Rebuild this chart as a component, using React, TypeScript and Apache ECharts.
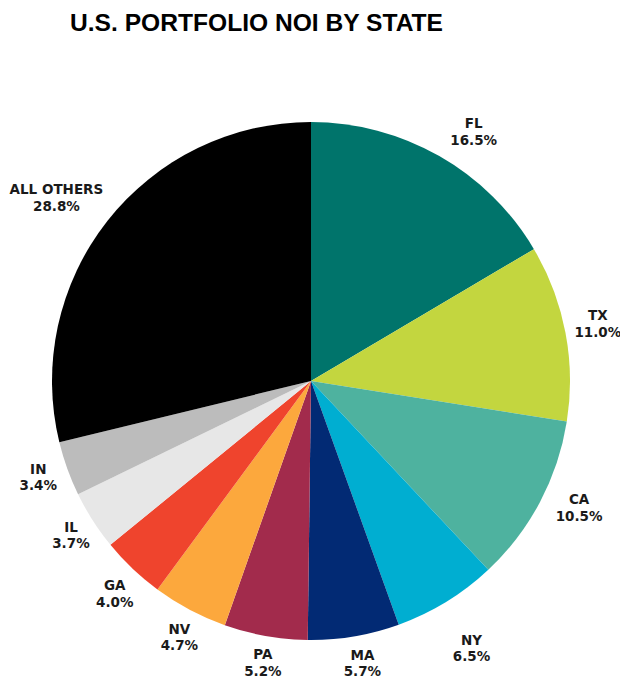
import React, { useEffect, useRef } from "react";
import * as echarts from "echarts";

const states = ["FL", "TX", "CA", "NY", "MA", "PA", "NV", "GA", "IL", "IN", "ALL OTHERS"];
const shares = [16.5, 11.0, 10.5, 6.5, 5.7, 5.2, 4.7, 4.0, 3.7, 3.4, 28.8];
const colors = ["#00746b", "#c3d63f", "#4eb29f", "#00aed1", "#022a74", "#a22b4c", "#fca83d", "#ef442d", "#e7e7e7", "#bcbcbc", "#000000"];

// small hand-placement nudges of the labels (layout only)
const labelNudge: [number, number][] = [
  [18, 4], [0, -3], [10, -10], [8, 18], [3, -6], [3, -6], [5, -2], [5, 1], [6, -3], [2, -3], [-25, -3],
];

export default function App() {
  const ref = useRef<HTMLDivElement>(null);
  useEffect(() => {
    document.body.style.margin = "0";
    document.body.style.overflow = "hidden";
    if (!ref.current) return;
    const chart = echarts.init(ref.current, undefined, { renderer: "svg" });
    chart.setOption({
      animation: false,
      backgroundColor: "#ffffff",
      title: {
        text: "U.S. PORTFOLIO NOI BY STATE",
        left: 65,
        top: 5,
        textStyle: { fontFamily: "Liberation Sans", fontWeight: "bold", fontSize: 24.6, color: "#000" },
      },
      series: [
        {
          type: "pie",
          center: [311, 381],
          radius: 259,
          startAngle: 90,
          clockwise: true,
          avoidLabelOverlap: false,
          data: states.map((s, i) => ({ name: s, value: shares[i], itemStyle: { color: colors[i] } })),
          label: {
            show: true,
            position: "outside",
            formatter: (p: any) => `${p.name}\n${p.value.toFixed(1)}%`,
            fontFamily: "DejaVu Sans",
            fontWeight: "bold",
            fontSize: 13.5,
            lineHeight: 16.5,
            color: "#1a1a1a",
            overflow: "none",
          },
          labelLine: { show: true, length: 33, length2: 0, lineStyle: { opacity: 0, width: 0 } },
          labelLayout: (p: any) => {
            const pts = p.labelLinePoints;
            if (!pts) return { hideOverlap: false };
            const n = labelNudge[p.dataIndex] || [0, 0];
            return {
              x: pts[1][0] + n[0],
              y: pts[1][1] + n[1],
              align: "center",
              verticalAlign: "middle",
              hideOverlap: false,
            };
          },
        },
      ],
    });
    return () => chart.dispose();
  }, []);
  return <div ref={ref} style={{ width: 620, height: 679 }} />;
}
